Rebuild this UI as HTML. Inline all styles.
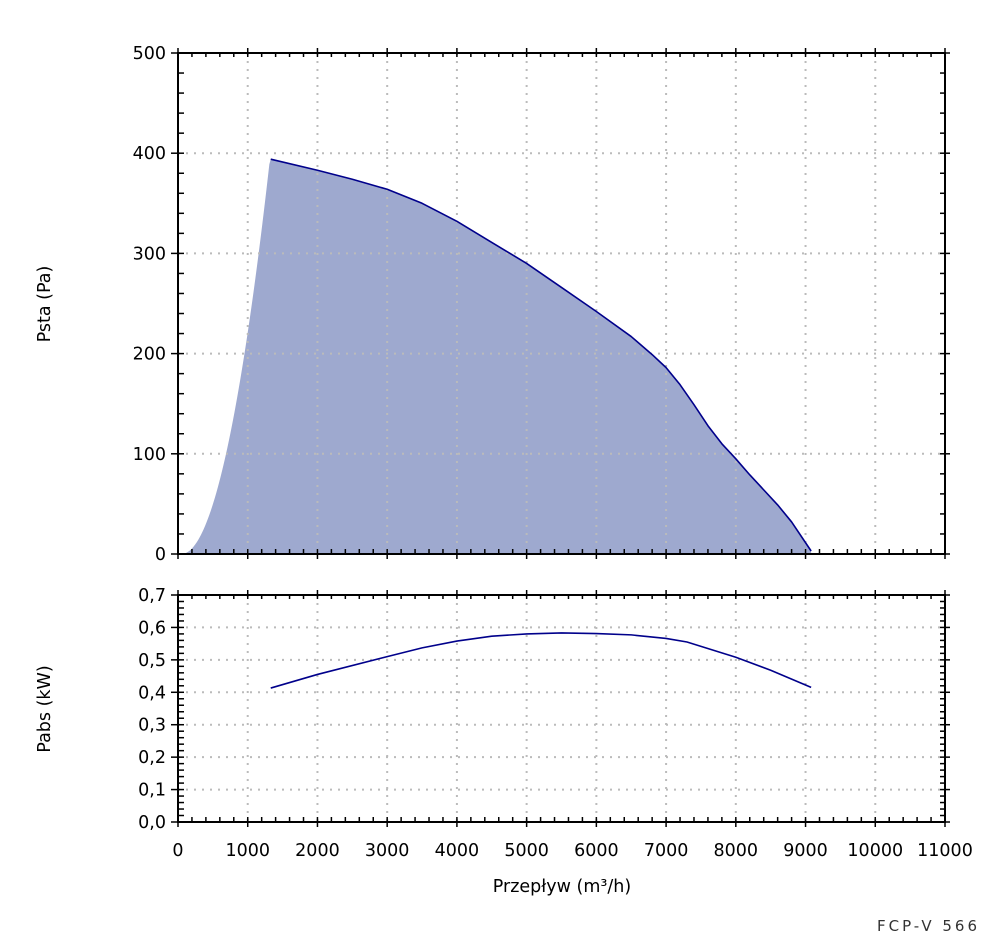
<!DOCTYPE html>
<html><head><meta charset="utf-8"><style>
body{margin:0;background:#fff;}
svg text{font-family:"DejaVu Sans","Liberation Sans",sans-serif;font-size:17.5px;fill:#000;}
</style></head><body>
<svg id="s" width="1000" height="939" xmlns="http://www.w3.org/2000/svg"></svg>
<script>
const s=document.getElementById('s');let h='';
const X=q=>178+q*767/11000;
const Y1=p=>554-p*501/500;
const Y2=v=>822-v*227/0.7;
const L=178,R=945;
function grid(y0,y1,ys,xs){
 for(const x of xs)h+=`<line x1="${X(x)}" y1="${y0}" x2="${X(x)}" y2="${y1}" stroke="#bbb" stroke-width="2" stroke-dasharray="2,6"/>`;
 for(const y of ys)h+=`<line x1="${L}" y1="${y}" x2="${R}" y2="${y}" stroke="#bbb" stroke-width="2" stroke-dasharray="2,6"/>`;
}
const xs=[];for(let q=1000;q<11000;q+=1000)xs.push(q);
let pts=[];for(let q=50;q<=1330;q+=20){pts.push([q,2.45e-4*(q-50)*(q-50)]);}
const curve=[[1330,394],[2000,383],[2500,374],[3000,364],[3500,350],[4000,332],[4500,311],[5000,290],[5500,266],[6000,242],[6500,217],[6800,199],[7000,186],[7200,169],[7400,149],[7600,128],[7800,110],[8000,95],[8200,79],[8400,64],[8600,49],[8800,32],[9080,3]];
let fill=`M${X(50)},${Y1(0)} `+pts.map(p=>`L${X(p[0])},${Y1(Math.min(p[1],394))}`).join(' ')+' '+curve.map(p=>`L${X(p[0])},${Y1(p[1])}`).join(' ')+` L${X(9080)},${Y1(0)} Z`;
h+=`<path d="${fill}" fill="#9ea9cf"/>`;
grid(53,554,[1,2,3,4].map(k=>Y1(k*100)),xs);
h+=`<polyline points="${curve.map(p=>X(p[0])+','+Y1(p[1])).join(' ')}" fill="none" stroke="#00008b" stroke-width="1.6" stroke-linejoin="round"/>`;
grid(595,822,[1,2,3,4,5,6].map(k=>Y2(k/10)),xs);
const pw=[[1330,0.413],[2000,0.455],[3000,0.51],[3500,0.537],[4000,0.558],[4500,0.573],[5000,0.580],[5500,0.583],[6000,0.581],[6500,0.577],[7000,0.566],[7300,0.555],[8000,0.508],[8500,0.468],[9080,0.415]];
h+=`<polyline points="${pw.map(p=>X(p[0])+','+Y2(p[1])).join(' ')}" fill="none" stroke="#00008b" stroke-width="1.6"/>`;
function frame(t,b){h+=`<rect x="${L}" y="${t}" width="${R-L}" height="${b-t}" fill="none" stroke="#000" stroke-width="2"/>`;
 for(let q=0;q<=11000;q+=200){const x=X(q);const maj=q%1000==0;
  h+=`<line x1="${x}" y1="${b+(maj?5:0)}" x2="${x}" y2="${b-5}" stroke="#000" stroke-width="1.5"/>`;
  h+=`<line x1="${x}" y1="${t-(maj?5:0)}" x2="${x}" y2="${t+4}" stroke="#000" stroke-width="1.5"/>`;}
}
frame(53,554);frame(595,822);
for(let p=0;p<=500;p+=20){const y=Y1(p),maj=p%100==0;
 h+=`<line x1="${L-(maj?7:0)}" y1="${y}" x2="${L+6}" y2="${y}" stroke="#000" stroke-width="1.5"/>`;
 h+=`<line x1="${R+(maj?5:0)}" y1="${y}" x2="${R-5}" y2="${y}" stroke="#000" stroke-width="1.5"/>`;
 if(maj)h+=`<text x="${L-12}" y="${y+6}" text-anchor="end">${p}</text>`;}
for(let k=0;k<=35;k++){const v=k*0.02,y=Y2(v),maj=k%5==0;
 h+=`<line x1="${L-(maj?7:0)}" y1="${y}" x2="${L+6}" y2="${y}" stroke="#000" stroke-width="1.5"/>`;
 h+=`<line x1="${R+(maj?5:0)}" y1="${y}" x2="${R-5}" y2="${y}" stroke="#000" stroke-width="1.5"/>`;
 if(maj)h+=`<text x="${L-12}" y="${y+6}" text-anchor="end">${(v).toFixed(1).replace('.',',')}</text>`;}
for(let q=0;q<=11000;q+=1000)h+=`<text x="${X(q)}" y="856" text-anchor="middle">${q}</text>`;
h+=`<text x="562" y="892" text-anchor="middle">Przepływ (m³/h)</text>`;
h+=`<text transform="translate(50,304) rotate(-90)" text-anchor="middle">Psta (Pa)</text>`;
h+=`<text transform="translate(50,709) rotate(-90)" text-anchor="middle">Pabs (kW)</text>`;
h+=`<text x="980" y="931" text-anchor="end" style="font-size:15px;letter-spacing:3px;fill:#333">FCP-V 566</text>`;
s.innerHTML=h;
</script>
</body></html>
